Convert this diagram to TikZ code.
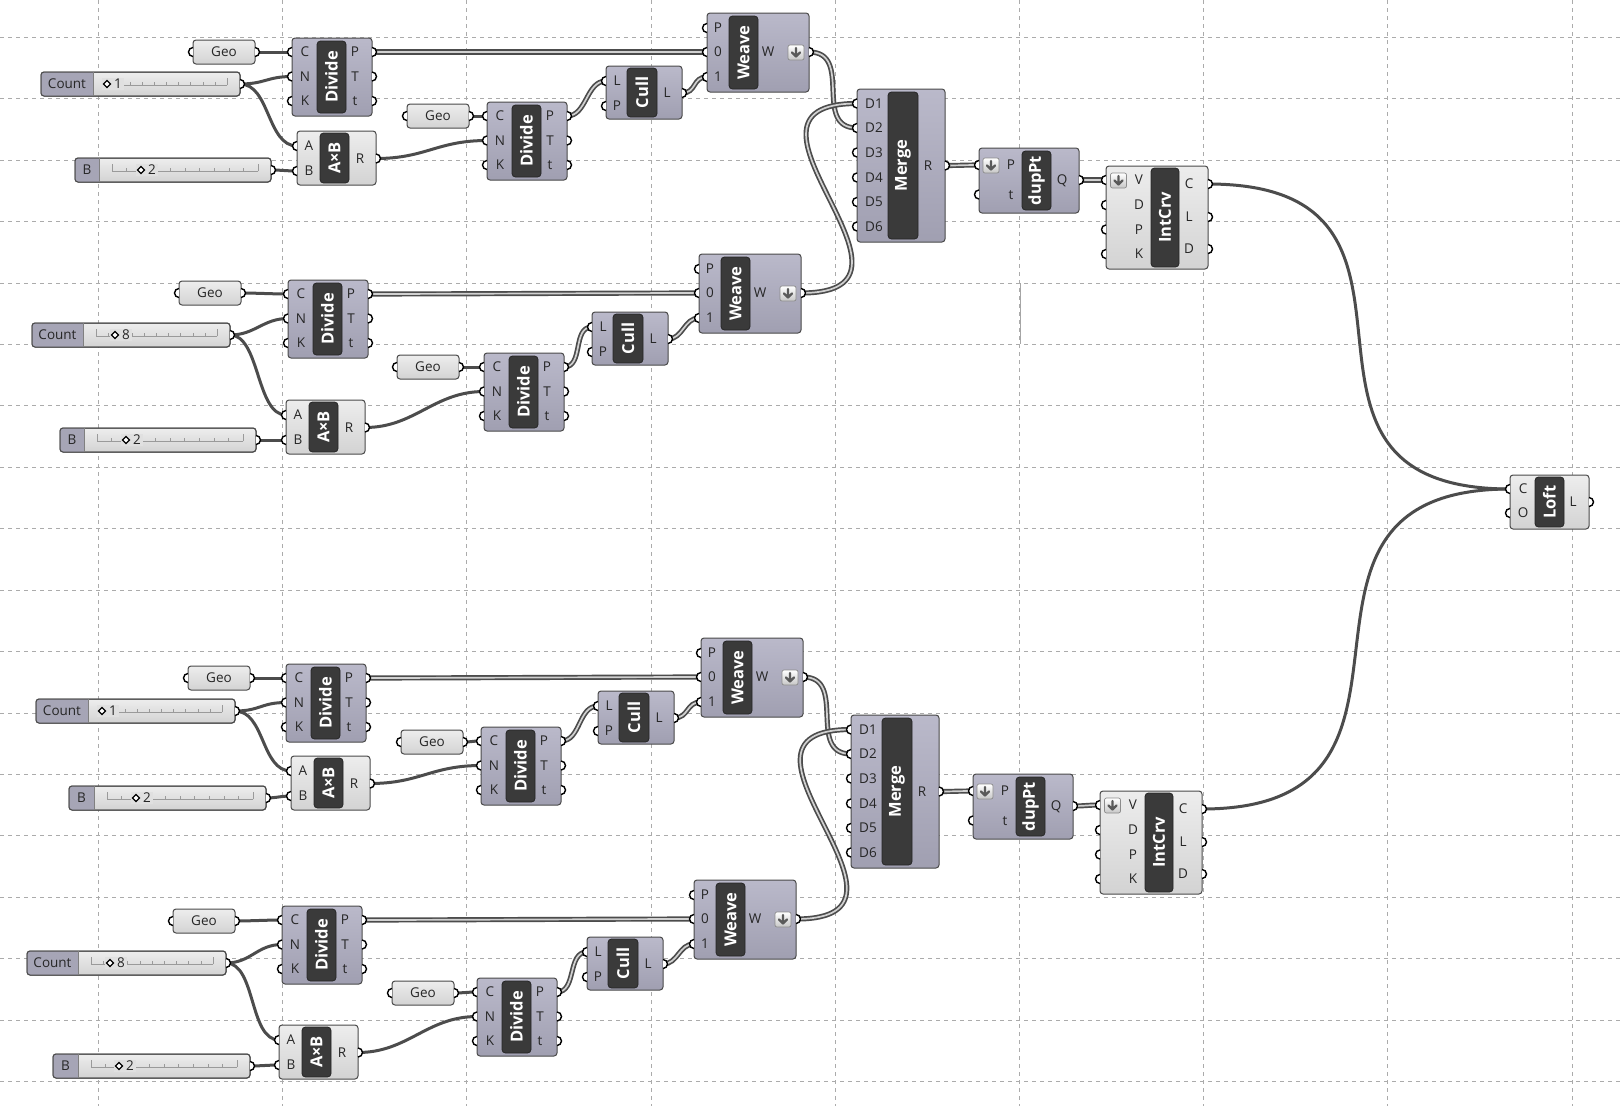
\documentclass[tikz,border=0pt]{standalone}
\usepackage{fontspec}
\setmainfont{Open Sans}
\usetikzlibrary{fit}
\definecolor{gridc}{HTML}{ABABAB}
\definecolor{wirec}{HTML}{4C4C4C}
\definecolor{purtop}{HTML}{BAB9CA}
\definecolor{purbot}{HTML}{A09FB1}
\definecolor{lgtop}{HTML}{EDEDED}
\definecolor{lgbot}{HTML}{D3D3D3}
\definecolor{bordc}{HTML}{4A4A4A}
\definecolor{innerc}{HTML}{3A3A3A}
\definecolor{slabc}{HTML}{A6A5B6}
\definecolor{tickc}{HTML}{9A9A9A}
\definecolor{arrowc}{HTML}{5A5A5A}
\definecolor{slidbg}{HTML}{E0E0E0}
\pgfdeclarelayer{gridlayer}
\pgfdeclarelayer{wirelayer}
\pgfsetlayers{gridlayer,wirelayer,main}
\tikzset{
  purp/.style={draw=bordc, line width=1pt, rounded corners=3pt, top color=purtop, bottom color=purbot},
  lite/.style={draw=bordc, line width=1pt, rounded corners=3pt, top color=lgtop, bottom color=lgbot},
  ghinner/.style={draw=black!85, fill=innerc, line width=0.8pt, rounded corners=3.5pt},
  ttl/.style={rotate=90, text=white, inner sep=0pt, font=\fontsize{16.5}{18}\selectfont\bfseries},
  plab/.style={text=black!85, inner sep=0pt, text height=9.6pt, text depth=0pt, font=\fontsize{13.5}{15}\selectfont},
  portc/.style={draw=black, fill=white, line width=1.4pt},
  wireA/.style={draw=wirec, line width=3pt},
  wireB/.style={draw=wirec, line width=1.7pt, double=black!18, double distance=1.7pt},
  gridl/.style={draw=gridc, line width=0.8pt, dash pattern=on 4pt off 4pt},
}
\newcommand\ghin[3]{\coordinate (#1) at (#2,#3); \draw[portc] (#2,#3-4.5) arc[start angle=270,end angle=90,radius=4.5];}
\newcommand\ghout[3]{\coordinate (#1) at (#2,#3); \draw[portc] (#2,#3-4.5) arc[start angle=-90,end angle=90,radius=4.5];}
\newcommand\ghicon[2]{%
  \draw[draw=black!45, line width=0.7pt, rounded corners=2pt, top color=white, bottom color=black!22] (#1-8,#2-7.5) rectangle (#1+8,#2+7.5);
  \draw[arrowc, line width=2.2pt, line cap=round, line join=round] (#1,#2-4.5) -- (#1,#2+4) (#1-4,#2) -- (#1,#2+4) -- (#1+4,#2);}
\newcommand\ghwire[4]{\draw[#1] (#2) .. controls +(#4,0) and +(-#4,0) .. (#3);}
\newcommand\ghgeo[3]{%
  \node[fit={(#2,#3) (#2+62,#3+24)}, inner sep=0pt, lite] (#1) {};
  \node[plab] at (#2+31,#3+12) {Geo};
  \ghin{#1-in}{#2}{#3+12}\ghout{#1-out}{#2+62}{#3+12}}
\newcommand\ghslider[8]{%
  \node[fit={(#2,#3) (#4,#3+24)}, inner sep=0pt, lite] (#1) {};
  \begin{scope}
    \clip[rounded corners=3pt] (#2,#3) rectangle (#4,#3+24);
    \fill[slabc] (#2,#3) rectangle (#2+#5,#3+24);
  \end{scope}
  \draw[bordc, line width=1pt, rounded corners=3pt] (#2,#3) rectangle (#4,#3+24);
  \draw[bordc!70, line width=0.8pt] (#2+#5,#3) -- (#2+#5,#3+24);
  \node[plab] at (#2+#5/2,#3+12) {#6};
  \draw[tickc, line width=0.6pt] (#2+#5+13,#3+13) -- (#4-13,#3+13);
  \foreach \k in {0,...,10}{\draw[tickc, line width=0.6pt] ({#2+#5+13+\k*(#4-#2-#5-26)/10},#3+13) -- ++(0,-3);}
  \draw[tickc, line width=0.6pt] (#2+#5+13,#3+13) -- ++(0,-7) (#4-13,#3+13) -- ++(0,-7);
  \node[plab, anchor=west, fill=slidbg, inner xsep=2pt, inner ysep=1pt] at (#2+#7+5,#3+12) {#8};
  \fill[slidbg] (#2+#7-5.5,#3+6) rectangle (#2+#7+6,#3+18);
  \draw[black, line width=1.3pt, fill=white] (#2+#7-3.5,#3+12) -- ++(3.5,-3.5) -- ++(3.5,3.5) -- ++(-3.5,3.5) -- cycle;
  \ghout{#1-out}{#4}{#3+12}}
\newcommand\ghdivide[3]{%
  \node[fit={(#2,#3) (#2+80,#3+78)}, inner sep=0pt, purp] (#1) {};
  \node[fit={(#2+25,#3+3) (#2+54,#3+75)}, inner sep=0pt, ghinner] (#1-i) {};
  \node[ttl] at (#1-i.center) {Divide};
  \ghin{#1-C}{#2}{#3+14}\ghin{#1-N}{#2}{#3+38.5}\ghin{#1-K}{#2}{#3+63}
  \ghout{#1-P}{#2+80}{#3+14}\ghout{#1-T}{#2+80}{#3+38.5}\ghout{#1-t}{#2+80}{#3+63}
  \node[plab] at (#2+13,#3+14) {C};\node[plab] at (#2+13,#3+38.5) {N};\node[plab] at (#2+13,#3+63) {K};
  \node[plab] at (#2+63,#3+14) {P};\node[plab] at (#2+63,#3+38.5) {T};\node[plab] at (#2+63,#3+63) {t};}
\newcommand\ghaxb[3]{%
  \node[fit={(#2,#3) (#2+79,#3+54)}, inner sep=0pt, lite] (#1) {};
  \node[fit={(#2+23,#3+2) (#2+52,#3+52)}, inner sep=0pt, ghinner] (#1-i) {};
  \node[ttl] at (#1-i.center) {A×B};
  \ghin{#1-A}{#2}{#3+15}\ghin{#1-B}{#2}{#3+40}\ghout{#1-R}{#2+79}{#3+27.5}
  \node[plab] at (#2+12,#3+15) {A};\node[plab] at (#2+12,#3+40) {B};\node[plab] at (#2+63,#3+27.5) {R};}
\newcommand\ghcull[3]{%
  \node[fit={(#2,#3) (#2+76,#3+53)}, inner sep=0pt, purp] (#1) {};
  \node[fit={(#2+21,#3+2) (#2+51,#3+51)}, inner sep=0pt, ghinner] (#1-i) {};
  \node[ttl] at (#1-i.center) {Cull};
  \ghin{#1-L}{#2}{#3+15}\ghin{#1-P}{#2}{#3+40}\ghout{#1-out}{#2+76}{#3+27}
  \node[plab] at (#2+11,#3+15) {L};\node[plab] at (#2+11,#3+40) {P};\node[plab] at (#2+61,#3+27) {L};}
\newcommand\ghweave[3]{%
  \node[fit={(#2,#3) (#2+102,#3+79)}, inner sep=0pt, purp] (#1) {};
  \node[fit={(#2+22,#3+3) (#2+51,#3+76)}, inner sep=0pt, ghinner] (#1-i) {};
  \node[ttl] at (#1-i.center) {Weave};
  \ghin{#1-P}{#2}{#3+15}\ghin{#1-0}{#2}{#3+39}\ghin{#1-1}{#2}{#3+64}\ghout{#1-W}{#2+102}{#3+39}
  \node[plab] at (#2+11,#3+15) {P};\node[plab] at (#2+11,#3+39) {0};\node[plab] at (#2+11,#3+64) {1};
  \node[plab] at (#2+61,#3+39) {W};
  \ghicon{#2+89}{#3+39.5}}
\newcommand\ghmerge[3]{%
  \node[fit={(#2,#3) (#2+88,#3+153)}, inner sep=0pt, purp] (#1) {};
  \node[fit={(#2+31,#3+3) (#2+61,#3+150)}, inner sep=0pt, ghinner] (#1-i) {};
  \node[ttl] at (#1-i.center) {Merge};
  \ghin{#1-D1}{#2}{#3+14.5}\ghin{#1-D2}{#2}{#3+39}\ghin{#1-D3}{#2}{#3+63.5}
  \ghin{#1-D4}{#2}{#3+88.5}\ghin{#1-D5}{#2}{#3+113}\ghin{#1-D6}{#2}{#3+137.5}
  \ghout{#1-R}{#2+88}{#3+76.5}
  \node[plab] at (#2+17,#3+14.5) {D1};\node[plab] at (#2+17,#3+39) {D2};\node[plab] at (#2+17,#3+63.5) {D3};
  \node[plab] at (#2+17,#3+88.5) {D4};\node[plab] at (#2+17,#3+113) {D5};\node[plab] at (#2+17,#3+137.5) {D6};
  \node[plab] at (#2+71,#3+76.5) {R};}
\newcommand\ghduppt[3]{%
  \node[fit={(#2,#3) (#2+100,#3+65)}, inner sep=0pt, purp] (#1) {};
  \node[fit={(#2+43,#3+3) (#2+72,#3+62)}, inner sep=0pt, ghinner] (#1-i) {};
  \node[ttl] at (#1-i.center) {dupPt};
  \ghin{#1-P}{#2}{#3+17}\ghin{#1-t}{#2}{#3+46.5}\ghout{#1-Q}{#2+100}{#3+32}
  \node[plab] at (#2+32,#3+17) {P};\node[plab] at (#2+32,#3+46.5) {t};\node[plab] at (#2+83,#3+32) {Q};
  \ghicon{#2+12}{#3+17.5}}
\newcommand\ghintcrv[3]{%
  \node[fit={(#2,#3) (#2+102,#3+103)}, inner sep=0pt, lite] (#1) {};
  \node[fit={(#2+45,#3+2) (#2+73,#3+101)}, inner sep=0pt, ghinner] (#1-i) {};
  \node[ttl] at (#1-i.center) {IntCrv};
  \ghin{#1-V}{#2}{#3+14}\ghin{#1-D}{#2}{#3+39}\ghin{#1-P}{#2}{#3+63.5}\ghin{#1-K}{#2}{#3+88}
  \ghout{#1-C}{#2+102}{#3+18}\ghout{#1-L}{#2+102}{#3+51}\ghout{#1-Dout}{#2+102}{#3+83}
  \node[plab] at (#2+33,#3+14) {V};\node[plab] at (#2+33,#3+39) {D};\node[plab] at (#2+33,#3+63.5) {P};\node[plab] at (#2+33,#3+88) {K};
  \node[plab] at (#2+83,#3+18) {C};\node[plab] at (#2+83,#3+51) {L};\node[plab] at (#2+83,#3+83) {D};
  \ghicon{#2+12.5}{#3+14.5}}
\newcommand\ghloft[3]{%
  \node[fit={(#2,#3) (#2+79,#3+54)}, inner sep=0pt, lite] (#1) {};
  \node[fit={(#2+25,#3+2) (#2+54,#3+52)}, inner sep=0pt, ghinner] (#1-i) {};
  \node[ttl] at (#1-i.center) {Loft};
  \ghin{#1-C}{#2}{#3+14}\ghin{#1-O}{#2}{#3+38}\ghout{#1-L}{#2+79}{#3+27}
  \node[plab] at (#2+13,#3+14) {C};\node[plab] at (#2+13,#3+38) {O};\node[plab] at (#2+63,#3+27) {L};}
\begin{document}
\begin{tikzpicture}[x=1pt,y=-1pt]
\useasboundingbox (0,0) rectangle (1623,1106);
\begin{pgfonlayer}{gridlayer}
  \fill[white] (0,0) rectangle (1623,1106);
  \foreach \gx in {0,...,8}{\draw[gridl] (98.3+\gx*184.2,0) -- (98.3+\gx*184.2,1106);}
  \foreach \gy in {0,...,17}{\draw[gridl] (0,37.3+\gy*61.42) -- (1623,37.3+\gy*61.42);}
  \draw[black!35, line width=0.8pt] (1020,283) -- (1020,344);
\end{pgfonlayer}

% cluster 1
\ghgeo{geoA1}{193}{40}
\ghslider{cnt1}{41}{72}{240}{52}{Count}{66}{1}
\ghdivide{divA1}{292}{38}
\ghslider{bsl1}{75}{158}{271}{24}{B}{66}{2}
\ghaxb{axb1}{297}{131}
\ghgeo{geoB1}{407}{104}
\ghdivide{divB1}{487}{102}
\ghcull{cull1}{606}{66}
\ghweave{wv1}{707}{13}
% cluster 2
\ghgeo{geoA2}{179}{281}
\ghslider{cnt2}{32}{323}{230}{51}{Count}{83}{8}
\ghdivide{divA2}{288}{280}
\ghslider{bsl2}{60}{428}{256}{24}{B}{66}{2}
\ghaxb{axb2}{286}{400}
\ghgeo{geoB2}{397}{355}
\ghdivide{divB2}{484}{353}
\ghcull{cull2}{592}{312}
\ghweave{wv2}{699}{254}
% cluster 3
\ghgeo{geoA3}{188}{666}
\ghslider{cnt3}{36}{699}{235}{52}{Count}{66}{1}
\ghdivide{divA3}{286}{664}
\ghslider{bsl3}{69}{786}{266}{25}{B}{67}{2}
\ghaxb{axb3}{291}{756}
\ghgeo{geoB3}{401}{730}
\ghdivide{divB3}{481}{727}
\ghcull{cull3}{598}{691}
\ghweave{wv3}{701}{638}
% cluster 4
\ghgeo{geoA4}{173}{909}
\ghslider{cnt4}{27}{951}{226}{51}{Count}{83}{8}
\ghdivide{divA4}{282}{906}
\ghslider{bsl4}{53}{1054}{250}{25}{B}{66}{2}
\ghaxb{axb4}{279}{1025}
\ghgeo{geoB4}{392}{981}
\ghdivide{divB4}{477}{978}
\ghcull{cull4}{587}{937}
\ghweave{wv4}{694}{880}
% right part
\ghmerge{mg1}{857}{89}
\ghmerge{mg2}{851}{715}
\ghduppt{dp1}{979}{148}
\ghduppt{dp2}{973}{774}
\ghintcrv{ic1}{1106}{166}
\ghintcrv{ic2}{1100}{791}
\ghloft{loft}{1510}{475}

\begin{pgfonlayer}{wirelayer}
\foreach \n in {1,2,3,4}{
  \ghwire{wireA}{geoA\n-out}{divA\n-C}{15}
  \ghwire{wireA}{cnt\n-out}{divA\n-N}{25}
  \ghwire{wireA}{cnt\n-out}{axb\n-A}{30}
  \ghwire{wireA}{bsl\n-out}{axb\n-B}{10}
  \ghwire{wireA}{axb\n-R}{divB\n-N}{50}
  \ghwire{wireA}{geoB\n-out}{divB\n-C}{10}
  \ghwire{wireB}{divA\n-P}{wv\n-0}{60}
  \ghwire{wireB}{divB\n-P}{cull\n-L}{20}
  \ghwire{wireB}{cull\n-out}{wv\n-1}{15}
}
\ghwire{wireB}{wv1-W}{mg1-D2}{45}
\ghwire{wireB}{wv2-W}{mg1-D1}{150}
\ghwire{wireB}{wv3-W}{mg2-D2}{45}
\ghwire{wireB}{wv4-W}{mg2-D1}{150}
\ghwire{wireB}{mg1-R}{dp1-P}{15}
\ghwire{wireB}{dp1-Q}{ic1-V}{12}
\ghwire{wireB}{mg2-R}{dp2-P}{15}
\ghwire{wireB}{dp2-Q}{ic2-V}{12}
\ghwire{wireA}{ic1-C}{loft-C}{270}
\ghwire{wireA}{ic2-C}{loft-C}{270}
\end{pgfonlayer}
\end{tikzpicture}
\end{document}
